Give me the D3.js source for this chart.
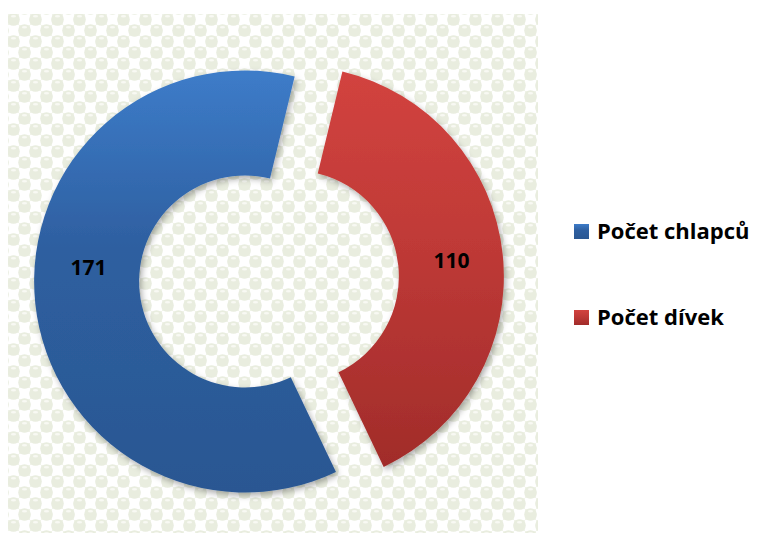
<!DOCTYPE html>
<html>
<head>
<meta charset="utf-8">
<script src="https://cdn.jsdelivr.net/npm/d3@7"></script>
<style>
  body { margin: 0; background: #ffffff; }
  svg { display: block; }
</style>
</head>
<body>
<svg id="chart" width="760" height="536"></svg>
<script>
// Doughnut data: boys and girls counts
const categories = ["Počet chlapců", "Počet dívek"];
const values = [171, 110];
const topColors = ["#3d7cc9", "#d2433f"];
const midColors = ["#2e5fa0", "#c03a37"];
const bottomColors = ["#2a5792", "#a12c2a"];

const svg = d3.select("#chart");
const defs = svg.append("defs");

// Plot-area fill: checkered pattern of pale green beads
const tile = 22, cell = 11;
const pat = defs.append("pattern")
  .attr("id", "beads")
  .attr("patternUnits", "userSpaceOnUse")
  .attr("x", 8).attr("y", 14)
  .attr("width", tile).attr("height", tile);
pat.append("rect").attr("width", tile).attr("height", tile).attr("fill", "#ffffff");
[[0, 0], [cell, cell]].forEach(([x, y]) => {
  pat.append("rect").attr("x", x).attr("y", y).attr("width", cell).attr("height", cell).attr("fill", "#f0f3e9");
});
const beadAt = (x, y, hi) => {
  pat.append("circle").attr("cx", x).attr("cy", y).attr("r", 6.3).attr("fill", "#e9eddf");
  if (hi) pat.append("ellipse").attr("cx", x).attr("cy", y - 3.2).attr("rx", 2.6).attr("ry", 1.2).attr("fill", "#f8f9f3");
};
[[cell / 2, cell / 2], [cell * 1.5, cell * 1.5]].forEach(([x, y]) => beadAt(x, y, true));
// wrap-around copies so beads continue across tile edges
[[cell * 1.5 - tile, cell * 1.5], [cell * 1.5, cell * 1.5 - tile], [cell * 1.5 - tile, cell * 1.5 - tile],
 [cell / 2 + tile, cell / 2], [cell / 2, cell / 2 + tile]].forEach(([x, y]) => beadAt(x, y, false));

svg.append("rect")
  .attr("x", 8).attr("y", 14)
  .attr("width", 530).attr("height", 519)
  .attr("fill", "url(#beads)");

// Slice gradients (top light to bottom dark)
categories.forEach((c, i) => {
  const g = defs.append("linearGradient")
    .attr("id", "grad" + i)
    .attr("x1", 0).attr("y1", 0).attr("x2", 0).attr("y2", 1);
  g.append("stop").attr("offset", "0%").attr("stop-color", topColors[i]);
  g.append("stop").attr("offset", "42%").attr("stop-color", midColors[i]);
  g.append("stop").attr("offset", "100%").attr("stop-color", bottomColors[i]);
});

// Soft shadow under slices
const f = defs.append("filter").attr("id", "shadow")
  .attr("x", "-20%").attr("y", "-20%").attr("width", "140%").attr("height", "140%");
f.append("feDropShadow")
  .attr("dx", 2).attr("dy", 3).attr("stdDeviation", 3)
  .attr("flood-color", "#000").attr("flood-opacity", 0.33);

// Doughnut geometry
const cx = 269, cy = 279;
const outerR = 211, innerR = 106;
const explode = 24;
const firstAngle = 154.5 * Math.PI / 180;

const pie = d3.pie()
  .sort(null)
  .startAngle(firstAngle)
  .endAngle(firstAngle + 2 * Math.PI);
const arcs = pie(values);

const arc = d3.arc().innerRadius(innerR).outerRadius(outerR);
const labelArc = d3.arc().innerRadius((innerR + outerR) / 2).outerRadius((innerR + outerR) / 2);

const offset = d => {
  const mid = (d.startAngle + d.endAngle) / 2;
  return [Math.sin(mid) * explode, -Math.cos(mid) * explode];
};

const g = svg.append("g").attr("transform", `translate(${cx},${cy})`);

const slices = g.selectAll("g.slice")
  .data(arcs)
  .join("g")
  .attr("class", "slice")
  .attr("transform", d => { const [dx, dy] = offset(d); return `translate(${dx},${dy})`; });

slices.append("path")
  .attr("d", arc)
  .attr("fill", (d, i) => `url(#grad${i})`)
  .attr("filter", "url(#shadow)");

// Value labels; the larger slice's label sits a bit above its centroid
const labelLift = [-31, 0];
slices.append("text")
  .attr("transform", (d, i) => {
    const [x, y] = labelArc.centroid(d);
    return `translate(${x + 1},${y + labelLift[i]})`;
  })
  .attr("text-anchor", "middle")
  .attr("dy", "0.36em")
  .attr("font-family", "'Open Sans', Lato, sans-serif")
  .attr("font-weight", "bold")
  .attr("font-size", 21)
  .attr("fill", "#000")
  .text((d, i) => values[i]);

// Legend
const legend = svg.append("g").attr("transform", "translate(574,224)");
const items = legend.selectAll("g")
  .data(categories)
  .join("g")
  .attr("transform", (d, i) => `translate(0,${i * 86})`);
items.append("rect")
  .attr("width", 15).attr("height", 15)
  .attr("fill", (d, i) => `url(#grad${i})`);
items.append("text")
  .attr("x", 23).attr("y", 15)
  .attr("font-family", "'Open Sans', Lato, sans-serif")
  .attr("font-weight", "bold")
  .attr("font-size", 22)
  .attr("fill", "#000")
  .text(d => d);
</script>
</body>
</html>
